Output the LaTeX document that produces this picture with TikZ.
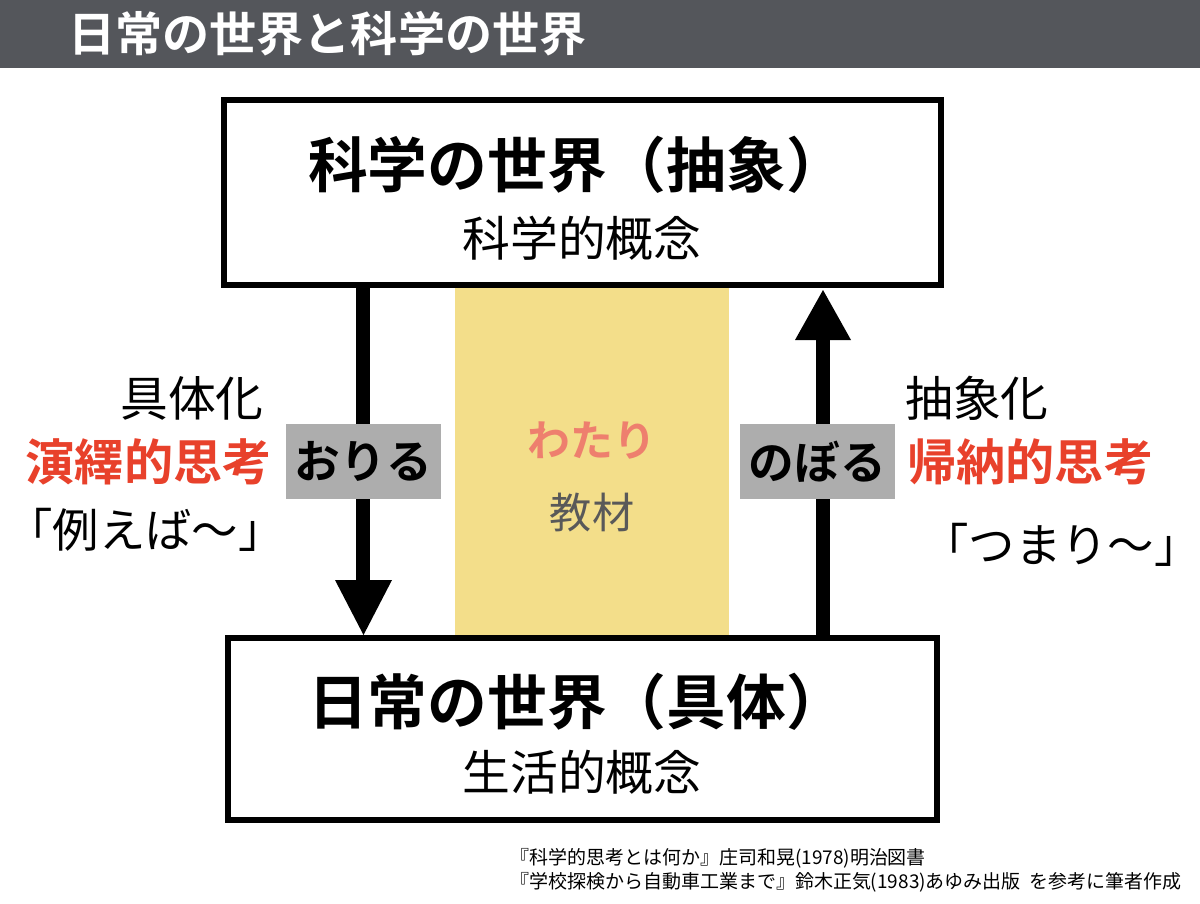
\documentclass[tikz,border=0pt]{standalone}
\usepackage{fontspec}
\setmainfont{Noto Sans CJK JP}[BoldFont={Noto Sans CJK JP Bold}]
\definecolor{bar}{HTML}{54565B}
\definecolor{yel}{HTML}{F3DE8A}
\definecolor{sal}{HTML}{EE7F6E}
\definecolor{redt}{HTML}{E8412B}
\definecolor{gbox}{HTML}{ADADAD}
\newcommand{\fs}[1]{\fontsize{#1}{#1}\selectfont}
\tikzset{
 world/.style={draw=black,line width=3.6pt,fill=white},
 lbl/.style={fill=gbox,minimum width=110.2pt,minimum height=53.3pt,inner sep=0pt,font=\fs{32.5}\bfseries},
 shaft/.style={line width=10pt},
}
\begin{document}
\begin{tikzpicture}[x=0.025cm,y=-0.025cm]
\useasboundingbox (0,0) rectangle (1200,903);
\fill[bar] (0,0) rectangle (1200,68);
\node[anchor=west,text=white,font=\fs{33.5}\bfseries,inner sep=0pt] (title) at (68,34) {日常の世界と科学の世界};
\fill[yel] (455,287) rectangle (729,636);
\node[text=sal,font=\fs{30.5}\bfseries] (wat) at (592,440) {わたり};
\node[text=black!65,font=\fs{30}] (kyo) at (592,513) {教材};
\draw[world] (224,100) rectangle (941,285);
\node[font=\fs{42.5}\bfseries] (sci) at (577,165) {科学の世界（抽象）};
\node[font=\fs{34}] (scis) at (582,238) {科学的概念};
\draw[world] (228,638) rectangle (937,820);
\node[font=\fs{42.5}\bfseries] (day) at (577,702) {日常の世界（具体）};
\node[font=\fs{34}] (days) at (582,772) {生活的概念};
% left arrow
\coordinate (la) at (363,287); \coordinate (lb) at (363,582);
\draw[shaft] (la) -- (lb);
\fill (335,580) -- (392,580) -- (363.5,635) -- cycle;
% right arrow
\coordinate (ra) at (823,636); \coordinate (rb) at (823,338);
\draw[shaft] (ra) -- (rb);
\fill (795,340) -- (851,340) -- (823,290) -- cycle;
\node[lbl] (ori) at (363.5,461.5) {おりる};
\node[lbl] (nob) at (817.5,461.5) {のぼる};
\node[anchor=east,font=\fs{34},inner sep=0pt] (gut) at (264,398) {具体化};
\node[anchor=east,text=redt,font=\fs{35}\bfseries,inner sep=0pt] (en) at (272,462) {演繹的思考};
\node[anchor=east,font=\fs{33},inner sep=0pt] (tat) at (285,530) {「例えば〜」};
\node[anchor=west,font=\fs{34},inner sep=0pt] (chu) at (905,398) {抽象化};
\node[anchor=west,text=redt,font=\fs{35}\bfseries,inner sep=0pt] (ki) at (907,462) {帰納的思考};
\node[anchor=west,font=\fs{33},inner sep=0pt] (tsu) at (922,545) {「つまり〜」};
\node[anchor=west,font=\fs{13.5},inner sep=0pt] (c1) at (510,858) {『科学的思考とは何か』庄司和晃(1978)明治図書};
\node[anchor=west,font=\fs{13.5},inner sep=0pt] (c2) at (510,882) {『学校探検から自動車工業まで』鈴木正気(1983)あゆみ出版\ \ を参考に筆者作成};
\end{tikzpicture}
\end{document}
